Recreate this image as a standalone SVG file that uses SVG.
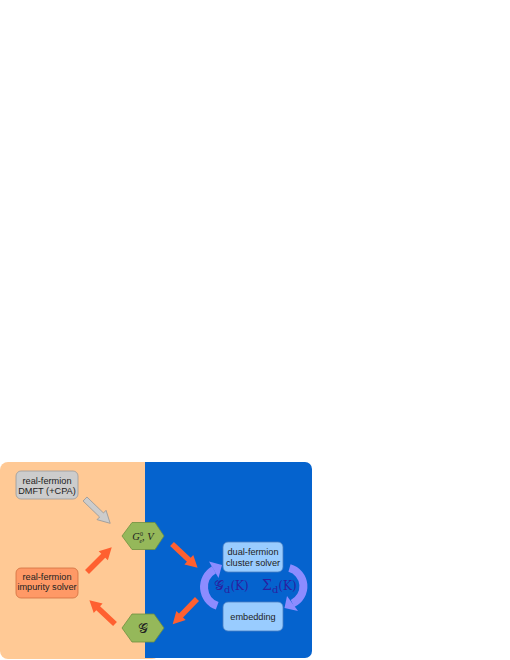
<svg xmlns="http://www.w3.org/2000/svg" width="510" height="660" viewBox="0 0 510 660">
<style>
.lbl{font-family:"Liberation Sans",Arial,sans-serif;font-size:9.2px;fill:#222;text-anchor:middle}
.math{font-family:"DejaVu Serif","Liberation Serif",serif;fill:#2a1fa0}
.hex{fill:#95b85a;stroke:#6f9040;stroke-width:0.8}
.oarr{fill:#ff6030}
.curv{fill:none;stroke:#8c8cff;stroke-width:8}
</style>
<defs>
<path id="arr" d="M0,-2.8 H23 V-6.5 L35,0 L23,6.5 V2.8 H0 Z"/>
</defs>
<rect x="0" y="462" width="160" height="197" rx="8" fill="#ffc995"/>
<path d="M145,462 H305 A7,7 0 0 1 312,469 V651 A7,7 0 0 1 305,658 H145 Z" fill="#0563ce"/>

<g id="connectors">
<use href="#arr" transform="translate(85,499) rotate(44)" fill="#cccccc" stroke="#999999" stroke-width="0.8"/>
<use href="#arr" class="oarr" transform="translate(87,572) rotate(-45)"/>
<use href="#arr" class="oarr" transform="translate(115,624) rotate(-137)"/>
<use href="#arr" class="oarr" transform="translate(172,544) rotate(43)"/>
<use href="#arr" class="oarr" transform="translate(197,599) rotate(134)"/>
<path class="curv" d="M217.2,605.8 A20,20 0 0 1 214,569.7"/>
<polygon points="222,565 209,561.5 218.5,578" fill="#8c8cff"/>
<path class="curv" d="M289.5,568 A19,19 0 0 1 292.5,603.5"/>
<polygon points="284.5,608 298,611 287,596" fill="#8c8cff"/>
</g>

<g id="dmft">
<rect x="16" y="471" width="62" height="28" rx="5" fill="#cccccc" stroke="#9a9a9a" stroke-width="0.8"/>
<text class="lbl" x="47" y="484">real-fermion</text>
<text class="lbl" x="47" y="494">DMFT (+CPA)</text>
</g>
<g id="impurity">
<rect x="16" y="568" width="62" height="30" rx="5" fill="#ff9966" stroke="#d0703f" stroke-width="0.8"/>
<text class="lbl" x="47" y="580">real-fermion</text>
<text class="lbl" x="47" y="590">impurity solver</text>
</g>
<g id="g0v">
<polygon class="hex" points="122,536 132,522.5 155,522.5 164,536 155,549.5 132,549.5"/>
<text x="143" y="540" font-size="10.5" text-anchor="middle" fill="#222" font-family="'Liberation Serif',serif"><tspan font-style="italic">G</tspan><tspan font-size="6" dy="-4.5">0</tspan><tspan font-size="6" font-style="italic" dx="-3.5" dy="7">e</tspan><tspan dy="-2.5">, </tspan><tspan font-style="italic">V</tspan></text>
</g>
<g id="gcal">
<polygon class="hex" points="122,628 132,614 154,614 164,628 154,642 132,642"/>
<text x="143" y="633" font-size="14" text-anchor="middle" font-family="'DejaVu Serif','Liberation Serif',serif" fill="#222">𝒢</text>
</g>
<g id="dual">
<rect x="223" y="542" width="60" height="30" rx="5" fill="#99ccff" stroke="#4a7fc0" stroke-width="0.8"/>
<text class="lbl" x="253" y="555">dual-fermion</text>
<text class="lbl" x="253" y="566">cluster solver</text>
</g>
<g id="embedding">
<rect x="223" y="602" width="60" height="29" rx="5" fill="#99ccff" stroke="#4a7fc0" stroke-width="0.8"/>
<text class="lbl" x="253" y="620">embedding</text>
</g>
<g id="labels">
<text class="math" x="214" y="590" font-size="14">𝒢<tspan font-size="10" dy="3">d</tspan><tspan font-size="12" dy="-3">(K)</tspan></text>
<text class="math" x="262" y="590" font-size="14">Σ<tspan font-size="10" dy="3">d</tspan><tspan font-size="12" dy="-3">(K)</tspan></text>
</g>
</svg>
